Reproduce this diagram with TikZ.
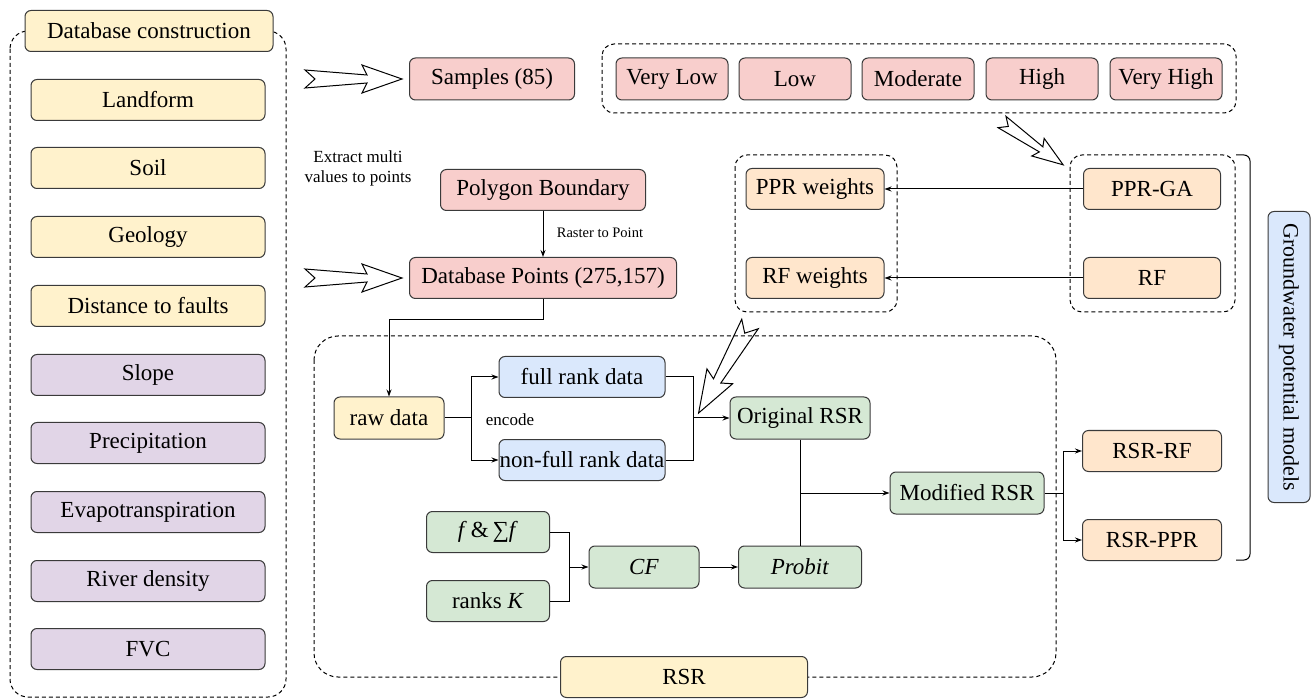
\documentclass[tikz,border=0pt]{standalone}
\usepackage{fontspec}
\setmainfont{Liberation Serif}
\usetikzlibrary{arrows.meta, positioning, calc}
\definecolor{cyellow}{HTML}{FFF2CC}
\definecolor{cpink}{HTML}{F8CECC}
\definecolor{cpurple}{HTML}{E1D5E7}
\definecolor{cblue}{HTML}{DAE8FC}
\definecolor{cgreen}{HTML}{D5E8D4}
\definecolor{corange}{HTML}{FFE6CC}
\definecolor{cline}{HTML}{3A3A3A}
\tikzset{
  every picture/.style={x=1pt, y=-1pt, line width=1pt},
  box/.style={draw=cline, fill=#1, rounded corners=6pt, inner sep=0pt, minimum height=41pt, font=\fontsize{23}{27}\selectfont},
  box/.default=cyellow,
  group/.style={draw=black, dash pattern=on 4pt off 3pt, rounded corners=#1},
  group/.default=12pt,
  arrow/.style={-{Stealth[length=7pt, width=5pt]}, draw=black},
  note/.style={font=\fontsize{17}{20}\selectfont, align=center},
  hollow/.style={draw=black, line join=miter},
}
\newcommand{\bigarrow}[3]{\draw[hollow, shift={#1}, rotate=#2, scale=#3] (0,-9) -- (62,-4) -- (57,-14) -- (97,0) -- (57,14) -- (62,4) -- (0,9) -- (10,0) -- cycle;}

\begin{document}
\begin{tikzpicture}
  \useasboundingbox (0,0) rectangle (1312,700);
  \draw[group=18pt] (10,31) rectangle (286,697);
  \draw[group] (602,44) rectangle (1236,113);
  \draw[group] (735,155) rectangle (897,312);
  \draw[group] (1070,155) rectangle (1235,312);
  \draw[group=24pt] (314,336) rectangle (1056,677);

  \node[box=cyellow, minimum width=248pt] (dbc) at (149,31) {Database construction};
  \foreach \n/\t/\y/\c in {land/Landform/100/cyellow, soil/Soil/168/cyellow, geo/Geology/237/cyellow, fault/Distance to faults/306/cyellow, slope/Slope/375/cpurple, prec/Precipitation/443/cpurple, evap/Evapotranspiration/512/cpurple, river/River density/581/cpurple, fvc/FVC/649/cpurple}
    \node[box=\c, minimum width=234pt] (\n) at (148,\y) {\t};

  \node[box=cpink, minimum width=165pt, minimum height=42pt] (samples) at (492,79) {Samples (85)};
  \foreach \n/\t/\x in {vlow/Very Low/672, low/Low/795, mod/Moderate/918, high/High/1042, vhigh/Very High/1166}
    \node[box=cpink, minimum width=112pt, minimum height=42pt] (\n) at (\x,79) {\t};
  \node[note] (extract) at (358,168) {Extract multi\\values to points};
  \node[box=cpink, minimum width=205pt] (poly) at (543,190) {Polygon Boundary};
  \node[box=cpink, minimum width=267pt] (dbp) at (543,278) {Database Points (275,157)};
  \node[note, anchor=west, font=\fontsize{14.5}{17}\selectfont] (raster) at (553,233) {Raster to Point};

  \node[box=corange, minimum width=138pt] (pprw) at (815,189) {PPR weights};
  \node[box=corange, minimum width=138pt] (rfw) at (815,278) {RF weights};
  \node[box=corange, minimum width=137pt] (pprga) at (1152,189) {PPR-GA};
  \node[box=corange, minimum width=137pt] (rf) at (1152,278) {RF};

  \node[box=cyellow, minimum width=110pt, minimum height=42pt] (raw) at (389,418) {raw data};
  \node[box=cblue, minimum width=166pt] (full) at (582,377) {full rank data};
  \node[box=cblue, minimum width=166pt] (nonfull) at (582,460) {non-full rank data};
  \node[note] (encode) at (510,420) {encode};
  \node[box=cgreen, minimum width=140pt, minimum height=42pt] (orsr) at (800,418) {Original RSR};
  \node[box=cgreen, minimum width=154pt, minimum height=42pt] (mrsr) at (967,493) {Modified RSR};
  \node[box=cgreen, minimum width=123pt] (fsum) at (488,532) {\textit{f}\,\&\,∑\textit{f}};
  \node[box=cgreen, minimum width=123pt] (ranks) at (488,601) {ranks \textit{K}};
  \node[box=cgreen, minimum width=110pt, minimum height=42pt] (cf) at (644,567) {\textit{CF}};
  \node[box=cgreen, minimum width=123pt, minimum height=42pt] (probit) at (800,567) {\textit{Probit}};
  \node[box=cyellow, minimum width=247pt] (rsr) at (684,677) {RSR};

  \node[box=corange, minimum width=139pt] (rsrrf) at (1152,451) {RSR-RF};
  \node[box=corange, minimum width=139pt] (rsrppr) at (1152,540) {RSR-PPR};
  \node[box=cblue, rotate=-90, minimum width=291pt, minimum height=42pt, font=\fontsize{22}{26}\selectfont] (gw) at (1289,357) {Groundwater potential models};

  \coordinate (split) at (471,418);
  \coordinate (join) at (693,418);
  \coordinate (mid) at (orsr.south |- mrsr.west);
  \coordinate (fk) at (569,567);
  \coordinate (fork) at (1063,493);

  \draw[arrow] (poly) -- (dbp);
  \draw[arrow] (dbp.south) -- ++(0,21) -| (raw.north);
  \draw (raw.east) -- (split);
  \draw[arrow] (split) |- (full.west);
  \draw[arrow] (split) |- (nonfull.west);
  \draw (full.east) -| (join);
  \draw (nonfull.east) -| (join);
  \draw[arrow] (join) -- (orsr.west);
  \draw (orsr.south) -- (probit.north);
  \draw[arrow] (mid) -- (mrsr.west);
  \draw (fsum.east) -| (fk);
  \draw (ranks.east) -| (fk);
  \draw[arrow] (fk) -- (cf.west);
  \draw[arrow] (cf) -- (probit);
  \draw (mrsr.east) -- (fork);
  \draw[arrow] (fork) |- (rsrrf.west);
  \draw[arrow] (fork) |- (rsrppr.west);
  \draw[arrow] (pprga) -- (pprw);
  \draw[arrow] (rf) -- (rfw);
  \draw[rounded corners=6pt] (1236,155) -- (1250,155) -- (1250,560) -- (1236,560);

  \bigarrow{(305,79)}{0}{1}
  \bigarrow{(305,278)}{0}{1}
  \bigarrow{(1002,122)}{-35}{0.77}
  \bigarrow{(750,324)}{-120}{1.06}
\end{tikzpicture}
\end{document}
